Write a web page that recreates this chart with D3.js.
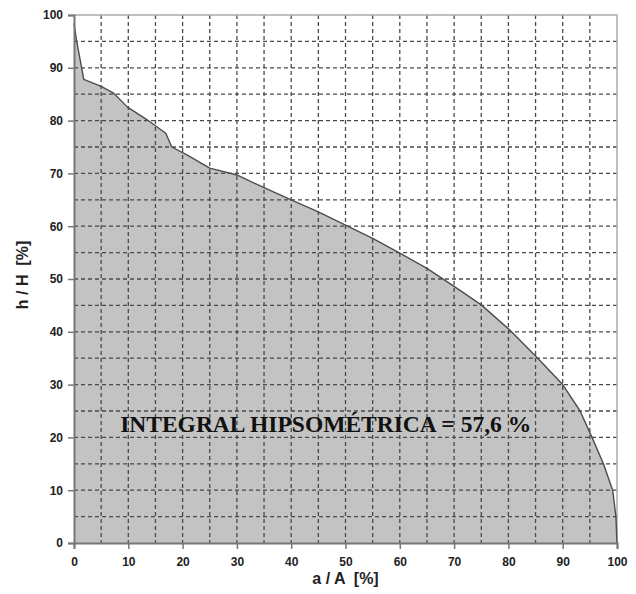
<!DOCTYPE html>
<html>
<head>
<meta charset="utf-8">
<script src="https://cdn.jsdelivr.net/npm/d3@7"></script>
<style>
  html, body { margin: 0; padding: 0; background: #fff; }
  svg { display: block; }
</style>
</head>
<body>
<div id="chart"></div>
<script>
(function () {
  'use strict';

  // ── Data ──
  var areaPct = [0, 0.5, 1.8, 5, 7.3, 9.8, 13.4, 16.9, 18, 20.8, 25, 30, 35, 40, 45, 50,
                 55, 60, 65, 70, 75, 80.3, 85.4, 90, 93.2, 95.4, 97.5, 99.2, 99.8, 100];
  var heightPct = [98.4, 95, 87.8, 86.5, 85.2, 82.6, 80.2, 77.6, 75, 73.5, 71, 69.7, 67.3, 65, 62.7, 60.2,
                   57.7, 54.9, 52, 48.6, 45.1, 40.3, 35, 30, 25, 20, 15, 10, 5, 0];
  var xTicks = [0, 10, 20, 30, 40, 50, 60, 70, 80, 90, 100];
  var yTicks = [0, 10, 20, 30, 40, 50, 60, 70, 80, 90, 100];
  var gridSteps = d3.range(5, 100, 5);
  var annotation = 'INTEGRAL HIPSOMÉTRICA = 57,6 %';

  // ── Layout ──
  var WIDTH = 636, HEIGHT = 594;
  var MARGIN = { top: 15, right: 19, bottom: 51, left: 74 };
  var innerW = WIDTH - MARGIN.left - MARGIN.right;
  var innerH = HEIGHT - MARGIN.top - MARGIN.bottom;
  var FONT = 'Liberation Sans, Arial, sans-serif';

  var svg = d3.select('#chart').append('svg')
    .attr('width', WIDTH)
    .attr('height', HEIGHT);

  var g = svg.append('g')
    .attr('transform', 'translate(' + MARGIN.left + ',' + MARGIN.top + ')');

  var x = d3.scaleLinear().domain([0, 100]).range([0, innerW]);
  var y = d3.scaleLinear().domain([0, 100]).range([innerH, 0]);

  var points = areaPct.map(function (a, i) { return [a, heightPct[i]]; });

  // filled area under the curve
  g.append('path')
    .datum(points)
    .attr('fill', '#c3c3c3')
    .attr('d', d3.area()
      .x(function (d) { return x(d[0]); })
      .y0(y(0))
      .y1(function (d) { return y(d[1]); }));

  // dashed grid every 5 %
  var grid = g.append('g')
    .attr('stroke', '#4a4a4a')
    .attr('stroke-width', 1.3)
    .attr('stroke-dasharray', '4,3');

  grid.selectAll('.gx').data(gridSteps).join('line')
    .attr('x1', function (d) { return x(d); })
    .attr('x2', function (d) { return x(d); })
    .attr('y1', 0).attr('y2', innerH);

  grid.selectAll('.gy').data(gridSteps).join('line')
    .attr('y1', function (d) { return y(d); })
    .attr('y2', function (d) { return y(d); })
    .attr('x1', 0).attr('x2', innerW);

  // top / right frame
  g.append('path')
    .attr('d', 'M0,0H' + innerW + 'V' + innerH)
    .attr('fill', 'none')
    .attr('stroke', '#aaa')
    .attr('stroke-width', 1.5);

  // curve
  g.append('path')
    .datum(points)
    .attr('fill', 'none')
    .attr('stroke', '#4d4d4d')
    .attr('stroke-width', 1.4)
    .attr('stroke-linejoin', 'round')
    .attr('d', d3.line()
      .x(function (d) { return x(d[0]); })
      .y(function (d) { return y(d[1]); }));

  // ── Axes ──
  var xAxis = g.append('g')
    .attr('transform', 'translate(0,' + innerH + ')')
    .call(d3.axisBottom(x).tickValues(xTicks).tickSize(6).tickPadding(8));

  var yAxis = g.append('g')
    .call(d3.axisLeft(y).tickValues(yTicks).tickSize(6).tickPadding(5));

  [xAxis, yAxis].forEach(function (ax) {
    ax.select('.domain').attr('stroke', '#777').attr('stroke-width', 2);
    ax.selectAll('.tick line').attr('stroke', '#777').attr('stroke-width', 1.5);
    ax.selectAll('.tick text')
      .attr('fill', '#222')
      .style('font-family', FONT)
      .style('font-size', '12px')
      .style('font-weight', 'bold');
  });

  // axis titles
  svg.append('text')
    .attr('x', MARGIN.left + innerW / 2)
    .attr('y', 584)
    .attr('text-anchor', 'middle')
    .attr('fill', '#222')
    .style('font-family', FONT)
    .style('font-size', '16px')
    .style('font-weight', 'bold')
    .style('white-space', 'pre')
    .text('a / A  [%]');

  svg.append('text')
    .attr('transform', 'translate(28,' + 275 + ') rotate(-90)')
    .attr('text-anchor', 'middle')
    .attr('fill', '#222')
    .style('font-family', FONT)
    .style('font-size', '16px')
    .style('font-weight', 'bold')
    .style('white-space', 'pre')
    .text('h / H  [%]');

  // annotation
  g.append('text')
    .attr('x', x(8.5))
    .attr('y', y(21))
    .attr('fill', '#111')
    .style('font-family', 'Liberation Serif, Times New Roman, serif')
    .style('font-size', '23.5px')
    .style('font-weight', 'bold')
    .text(annotation);
})();
</script>
</body>
</html>
